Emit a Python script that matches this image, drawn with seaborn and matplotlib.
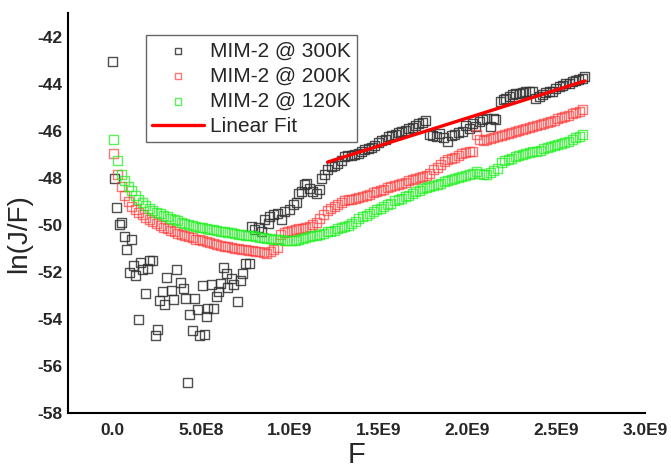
import numpy as np
import pandas as pd
import matplotlib
matplotlib.use('Agg')
import matplotlib.pyplot as plt
import seaborn as sns

# F values are in units of 1E8
F_300K = [
    0.02, 0.13, 0.26, 0.41, 0.54, 0.69, 0.83, 0.97, 1.07, 1.2,
    1.33, 1.46, 1.61, 1.72, 1.89, 2.01, 2.13, 2.26, 2.42, 2.53,
    2.66, 2.81, 2.94, 3.07, 3.35, 3.48, 3.6, 3.84, 4.01, 4.14,
    4.25, 4.38, 4.53, 4.65, 4.79, 4.94, 5.06, 5.21, 5.32, 5.39,
    5.6, 5.69, 5.86, 6.01, 6.12, 6.25, 6.44, 6.48, 6.72, 6.81,
    7.08, 7.23, 7.34, 7.49, 7.71, 7.85, 8.03, 8.26, 8.41, 8.6,
    8.78, 8.88, 9.06, 9.34, 9.53, 9.72, 10.0, 10.19, 10.38, 10.47,
    10.66, 10.84, 10.94, 11.12, 11.31, 11.5, 11.69, 11.78, 11.97, 12.15,
    12.34, 12.53, 12.71, 12.9, 13.09, 13.28, 13.47, 13.66, 13.85, 14.04,
    14.23, 14.42, 14.61, 14.8, 14.99, 15.18, 15.37, 15.56, 15.75, 15.94,
    16.13, 16.32, 16.51, 16.7, 16.89, 17.08, 17.27, 17.46, 17.65, 17.86,
    18.05, 18.24, 18.43, 18.65, 18.89, 19.1, 19.27, 19.49, 19.74, 19.92,
    20.11, 20.3, 20.49, 20.67, 20.86, 21.07, 21.33, 21.46, 21.61, 21.89,
    22.02, 22.17, 22.36, 22.55, 22.73, 22.92, 23.11, 23.3, 23.48, 23.67,
    23.86, 24.04, 24.23, 24.42, 24.61, 24.79, 24.98, 25.17, 25.36, 25.54,
    25.73, 25.92, 26.11, 26.29, 26.48, 26.63,
]
lnJF_300K = [
    -43.05, -48.01, -49.25, -50.0, -49.9, -50.5, -51.06, -52.03, -50.64, -51.74,
    -52.13, -54.0, -51.59, -51.91, -52.92, -51.84, -51.52, -51.53, -54.68, -54.44,
    -53.23, -52.81, -53.39, -52.23, -52.78, -53.19, -51.89, -52.43, -52.72, -53.12,
    -56.69, -53.79, -54.5, -53.11, -53.59, -54.71, -52.58, -54.64, -53.9, -53.54,
    -52.52, -53.54, -53.05, -52.84, -52.51, -51.8, -52.06, -52.65, -52.27, -52.55,
    -53.26, -52.38, -52.06, -51.63, -51.63, -50.07, -50.21, -50.1, -50.29, -49.79,
    -49.93, -49.65, -49.57, -49.5, -49.79, -49.43, -49.36, -49.15, -49.05, -48.65,
    -48.58, -48.3, -48.23, -48.44, -48.58, -48.65, -48.51, -48.01, -47.87, -47.66,
    -47.52, -47.49, -47.37, -47.26, -47.09, -47.07, -47.04, -47.0, -46.96, -46.86,
    -46.79, -46.75, -46.7, -46.63, -46.5, -46.43, -46.36, -46.25, -46.19, -46.14,
    -46.09, -46.05, -45.98, -45.91, -45.85, -45.76, -45.71, -45.65, -45.56, -46.17,
    -46.2, -46.24, -46.1, -46.3, -46.46, -46.21, -46.17, -46.09, -46.03, -45.79,
    -45.89, -45.67, -45.82, -45.6, -45.53, -45.49, -45.82, -45.46, -45.53, -44.75,
    -44.68, -44.61, -44.54, -44.47, -44.43, -44.4, -44.36, -44.33, -44.33, -44.33,
    -44.61, -44.54, -44.47, -44.38, -44.34, -44.33, -44.19, -44.11, -44.06, -44.0,
    -43.97, -43.91, -43.87, -43.83, -43.77, -43.71,
]

# 200K and 120K share the same field sweep (units of 1E8)
F_sweep = [
    0.1, 0.3, 0.5, 0.7, 0.9, 1.1, 1.3, 1.5, 1.7, 1.9,
    2.1, 2.3, 2.5, 2.7, 2.9, 3.1, 3.3, 3.5, 3.7, 3.9,
    4.1, 4.3, 4.5, 4.7, 4.9, 5.1, 5.3, 5.5, 5.7, 5.9,
    6.1, 6.3, 6.5, 6.7, 6.9, 7.1, 7.3, 7.5, 7.7, 7.9,
    8.1, 8.3, 8.5, 8.7, 8.9, 9.1, 9.3, 9.5, 9.7, 9.9,
    10.1, 10.3, 10.5, 10.7, 10.9, 11.1, 11.3, 11.5, 11.7, 11.9,
    12.1, 12.3, 12.5, 12.7, 12.9, 13.1, 13.3, 13.5, 13.7, 13.9,
    14.1, 14.3, 14.5, 14.7, 14.9, 15.1, 15.3, 15.5, 15.7, 15.9,
    16.1, 16.3, 16.5, 16.7, 16.9, 17.1, 17.3, 17.5, 17.7, 17.9,
    18.1, 18.3, 18.5, 18.7, 18.9, 19.1, 19.3, 19.5, 19.7, 19.9,
    20.1, 20.3, 20.5, 20.7, 20.9, 21.1, 21.3, 21.5, 21.7, 21.9,
    22.1, 22.3, 22.5, 22.7, 22.9, 23.1, 23.3, 23.5, 23.7, 23.9,
    24.1, 24.3, 24.5, 24.7, 24.9, 25.1, 25.3, 25.5, 25.7, 25.9,
    26.1, 26.3, 26.5,
]
lnJF_200K = [
    -46.95, -47.85, -48.35, -48.75, -49.0, -49.2, -49.35, -49.46, -49.57, -49.68,
    -49.78, -49.86, -49.95, -50.02, -50.09, -50.16, -50.23, -50.3, -50.35, -50.4,
    -50.45, -50.5, -50.55, -50.6, -50.64, -50.68, -50.72, -50.76, -50.8, -50.84,
    -50.87, -50.9, -50.93, -50.96, -50.99, -51.01, -51.03, -51.05, -51.08, -51.1,
    -51.13, -51.15, -51.18, -51.2, -51.14, -51.05, -50.95, -50.4, -50.33, -50.28,
    -50.22, -50.2, -50.17, -50.14, -50.1, -50.06, -50.0, -49.9, -49.72, -49.55,
    -49.4, -49.3, -49.2, -49.12, -49.05, -48.98, -48.94, -48.9, -48.86, -48.82,
    -48.79, -48.74, -48.69, -48.63, -48.58, -48.53, -48.48, -48.43, -48.38, -48.33,
    -48.28, -48.23, -48.18, -48.13, -48.08, -48.03, -47.98, -47.93, -47.88, -47.8,
    -47.65, -47.55, -47.45, -47.32, -47.24, -47.18, -47.12, -47.05, -46.98, -46.93,
    -46.9, -46.88, -46.17, -46.38, -46.4, -46.38, -46.34, -46.3, -46.26, -46.22,
    -46.17, -46.12, -46.06, -46.02, -45.98, -45.94, -45.89, -45.85, -45.81, -45.77,
    -45.73, -45.69, -45.65, -45.61, -45.55, -45.48, -45.43, -45.38, -45.33, -45.28,
    -45.22, -45.16, -45.1,
]
lnJF_120K = [
    -46.35, -47.25, -47.85, -48.13, -48.38, -48.55, -48.74, -48.94, -49.06, -49.19,
    -49.31, -49.4, -49.47, -49.53, -49.59, -49.65, -49.71, -49.78, -49.83, -49.88,
    -49.93, -49.98, -50.02, -50.06, -50.1, -50.13, -50.16, -50.18, -50.21, -50.24,
    -50.26, -50.29, -50.32, -50.34, -50.36, -50.39, -50.41, -50.43, -50.45, -50.47,
    -50.5, -50.52, -50.54, -50.56, -50.58, -50.6, -50.62, -50.64, -50.66, -50.68,
    -50.67, -50.65, -50.63, -50.58, -50.54, -50.5, -50.46, -50.43, -50.4, -50.35,
    -50.3, -50.27, -50.22, -50.17, -50.12, -50.06, -50.01, -49.95, -49.85, -49.73,
    -49.65, -49.58, -49.5, -49.42, -49.34, -49.29, -49.22, -49.15, -49.08, -48.98,
    -48.92, -48.86, -48.8, -48.74, -48.66, -48.6, -48.54, -48.47, -48.4, -48.36,
    -48.32, -48.27, -48.22, -48.17, -48.13, -48.08, -48.03, -47.98, -47.94, -47.9,
    -47.85, -47.8, -47.74, -47.8, -47.87, -47.84, -47.78, -47.7, -47.62, -47.35,
    -47.28, -47.22, -47.17, -47.11, -47.06, -47.02, -46.98, -46.94, -46.9, -46.86,
    -46.82, -46.76, -46.72, -46.68, -46.63, -46.58, -46.53, -46.49, -46.44, -46.37,
    -46.3, -46.24, -46.17,
]

# linear fit of the 300K high-field part (ends of the drawn line)
fit_F = [12.13, 26.63]
fit_lnJF = [-47.33, -43.88]

xticks = [0, 5e8, 1e9, 1.5e9, 2e9, 2.5e9, 3e9]
xtick_labels = ['0.0', '5.0E8', '1.0E9', '1.5E9', '2.0E9', '2.5E9', '3.0E9']
yticks = [-42, -44, -46, -48, -50, -52, -54, -56, -58]
ytick_labels = ['-42', '-44', '-46', '-48', '-50', '-52', '-54', '-56', '-58']

sns.set_style('white')
plt.rcParams['font.family'] = ['Liberation Sans', 'DejaVu Sans']

df300 = pd.DataFrame({'F': np.array(F_300K) * 1e8, 'lnJF': lnJF_300K})
df200 = pd.DataFrame({'F': np.array(F_sweep) * 1e8, 'lnJF': lnJF_200K})
df120 = pd.DataFrame({'F': np.array(F_sweep) * 1e8, 'lnJF': lnJF_120K})
dffit = pd.DataFrame({'F': np.array(fit_F) * 1e8, 'lnJF': fit_lnJF})

fig = plt.figure(figsize=(6.71, 4.70), dpi=100)
ax = fig.add_axes([0.101, 0.121, 0.86, 0.851])

sns.scatterplot(data=df300, x='F', y='lnJF', marker='s', s=42, facecolor='none',
                edgecolor='#303030', linewidth=1.0, alpha=0.85, label='MIM-2 @ 300K', ax=ax)
sns.scatterplot(data=df200, x='F', y='lnJF', marker='s', s=42, facecolor='none',
                edgecolor='#ff3b3b', linewidth=1.0, alpha=0.7, label='MIM-2 @ 200K', ax=ax)
sns.scatterplot(data=df120, x='F', y='lnJF', marker='s', s=42, facecolor='none',
                edgecolor='#22f022', linewidth=1.0, alpha=0.75, label='MIM-2 @ 120K', ax=ax)
sns.lineplot(data=dffit, x='F', y='lnJF', color='#ff0000', linewidth=2.4, label='Linear Fit', ax=ax)

ax.set_xlim(-2.5e8, 3.0e9)
ax.set_ylim(-58, -41)
ax.set_xticks(xticks)
ax.set_xticklabels(xtick_labels, fontsize=12.5, fontweight='bold')
ax.set_yticks(yticks)
ax.set_yticklabels(ytick_labels, fontsize=12.5, fontweight='bold')
ax.tick_params(length=0, pad=7)
ax.tick_params(axis='y', pad=4)

sns.despine(ax=ax)
for side in ['left', 'bottom']:
    ax.spines[side].set_color('black')
    ax.spines[side].set_linewidth(1.5)

ax.set_xlabel('F', fontsize=21, labelpad=2)
ax.set_ylabel('ln(J/F)', fontsize=20, labelpad=2)
ax.yaxis.set_label_coords(-0.062, 0.45)

leg = ax.legend(loc='upper left', bbox_to_anchor=(0.135, 0.945), borderaxespad=0,
                fontsize=15, frameon=True, fancybox=False, markerscale=0.7,
                handlelength=2.5, handletextpad=0.3, labelspacing=0.3, borderpad=0.3)
leg.get_frame().set_edgecolor('#404040')
leg.get_frame().set_linewidth(1.0)

fig.savefig('out.png', dpi=100)
